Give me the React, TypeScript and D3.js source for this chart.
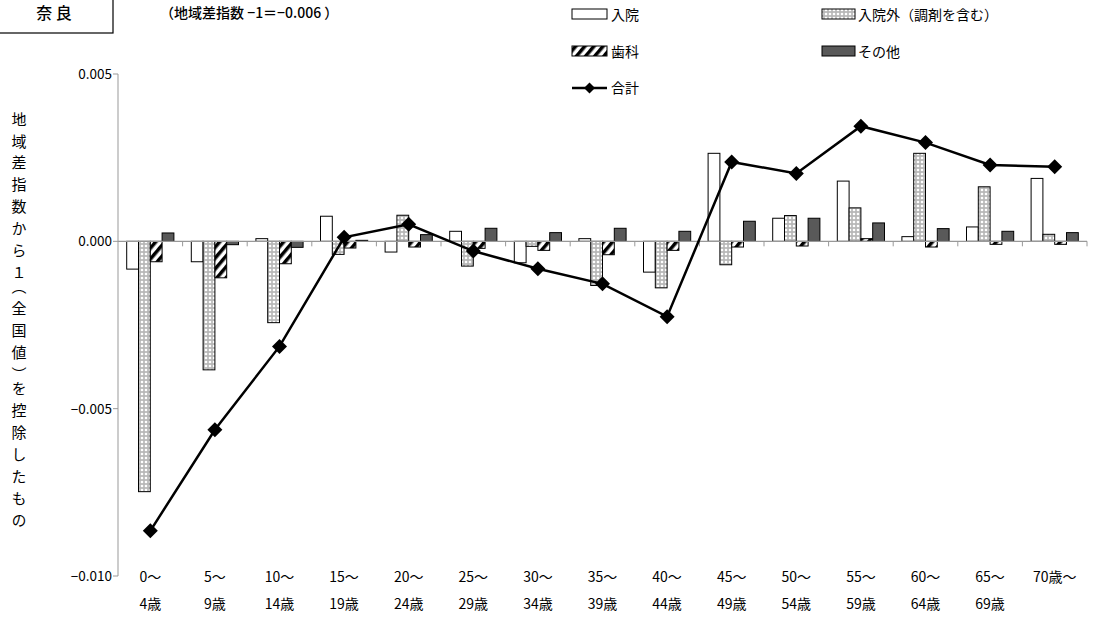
import React from "react";
import * as d3 from "d3";

const categories = ["0～|4歳","5～|9歳","10～|14歳","15～|19歳","20～|24歳","25～|29歳","30～|34歳","35～|39歳","40～|44歳","45～|49歳","50～|54歳","55～|59歳","60～|64歳","65～|69歳","70歳～|"];
const inpatient = [-0.00083,-0.00061,0.00008,0.00075,-0.00032,0.0003,-0.00064,0.00008,-0.00092,0.00263,0.00069,0.0018,0.00014,0.00043,0.00188];
const outpatient = [-0.00748,-0.00384,-0.00243,-0.00039,0.00078,-0.00074,-0.00015,-0.00132,-0.00139,-0.0007,0.00077,0.001,0.00263,0.00163,0.00021];
const dental = [-0.00061,-0.00109,-0.00067,-0.0002,-0.00017,-0.00021,-0.00027,-0.0004,-0.00027,-0.00017,-0.00014,0.00008,-0.00017,-0.00009,-0.00009];
const other = [0.00025,-0.0001,-0.00018,0.00003,0.0002,0.00039,0.00026,0.00039,0.0003,0.0006,0.00069,0.00055,0.00038,0.0003,0.00026];
const total = [-0.00865,-0.00563,-0.00314,0.00012,0.00051,-0.00029,-0.00082,-0.00127,-0.00225,0.00237,0.00203,0.00344,0.00295,0.00228,0.00223];
const yTicks = [0.005, 0, -0.005, -0.01];
const seriesNames = ["入院","入院外（調剤を含む）","歯科","その他","合計"];
const yLabel = "地域差指数から１（全国値）を控除したもの";

const FONT = "'Noto Sans CJK JP', 'Noto Sans', sans-serif";

export default function App() {
  const W = 1097, H = 641;
  const x0 = 118, x1 = 1087;
  const y = d3.scaleLinear().domain([-0.01, 0.005]).range([576, 74]);
  const x = d3.scaleBand().domain(categories).range([x0, x1]).paddingInner(0).paddingOuter(0);
  const bw = x.bandwidth();
  const barW = 11.8;
  const offset = (bw - 4 * barW) / 2;
  const series = [
    { vals: inpatient, fill: "#ffffff" },
    { vals: outpatient, fill: "url(#dots)" },
    { vals: dental, fill: "url(#hatch)" },
    { vals: other, fill: "#595959" },
  ];
  const line = d3.line<number>()
    .x((_, i) => (x(categories[i]) as number) + bw / 2)
    .y((d) => y(d));
  const diamond = (cx: number, cy: number, r: number) =>
    `M${cx},${cy - r}L${cx + r},${cy}L${cx},${cy + r}L${cx - r},${cy}Z`;

  return (
    <svg width={W} height={H} style={{ position: "absolute", left: 0, top: 0, background: "#fff" }} fontFamily={FONT}>
      <defs>
        <pattern id="dots" patternUnits="userSpaceOnUse" width="4" height="4">
          <rect width="4" height="4" fill="#b8b8b8" />
          <circle cx="2" cy="2" r="1.3" fill="#ffffff" />
        </pattern>
        <pattern id="hatch" patternUnits="userSpaceOnUse" width="7" height="7" patternTransform="rotate(40)">
          <rect width="7" height="7" fill="#ffffff" />
          <rect width="3.5" height="7" fill="#000000" />
        </pattern>
      </defs>
      <rect x={0} y={0} width={W} height={H} fill="#fff" />

      {/* title box */}
      <rect x={-2} y={-5} width={115} height={38} fill="#fff" stroke="#000" strokeWidth={1.2} />
      <text x={54} y={19} textAnchor="middle" fontSize={16} fill="#000" fontWeight={500}>奈 良</text>
      <text x={160} y={18} fontSize={14} fill="#000" fontWeight={500}>（地域差指数 −1＝−0.006 ）</text>

      {/* y axis */}
      <line x1={x0} x2={x0} y1={y(0.005)} y2={y(-0.01)} stroke="#999" strokeWidth={1} />
      {yTicks.map((t) => (
        <g key={t}>
          <line x1={x0 - 5} x2={x0} y1={y(t)} y2={y(t)} stroke="#999" />
          <text x={112} y={y(t) + 5} textAnchor="end" fontSize={13.5} fill="#000">{d3.format(".3f")(t)}</text>
        </g>
      ))}
      <text x={19} y={111.5} fontSize={15} fill="#000"
        style={{ writingMode: "vertical-rl", letterSpacing: "6.9px", fontFeatureSettings: "'vhal' 1" } as any}>
        {yLabel}
      </text>

      {/* bars */}
      {series.map((s, si) =>
        s.vals.map((v, i) => {
          const bx = (x(categories[i]) as number) + offset + si * barW;
          const yt = y(Math.max(0, v)), yb = y(Math.min(0, v));
          return <rect key={`${si}-${i}`} x={bx} y={yt} width={barW} height={Math.max(0.5, yb - yt)} fill={s.fill} stroke="#000" strokeWidth={1} />;
        })
      )}

      {/* x axis */}
      <line x1={x0} x2={x1} y1={y(0)} y2={y(0)} stroke="#999" strokeWidth={1.2} />
      {categories.map((c) => (
        <line key={c} x1={(x(c) as number) + bw} x2={(x(c) as number) + bw} y1={y(0)} y2={y(0) + 5} stroke="#999" />
      ))}

      {/* total line */}
      <path d={line(total) || ""} fill="none" stroke="#000" strokeWidth={2.5} />
      {total.map((v, i) => (
        <path key={i} d={diamond((x(categories[i]) as number) + bw / 2, y(v), 7.5)} fill="#000" />
      ))}

      {/* x labels */}
      {categories.map((c) => {
        const [a, b] = c.split("|");
        const cx = (x(c) as number) + bw / 2;
        return (
          <g key={c}>
            <text x={cx} y={582} textAnchor="middle" fontSize={14} fill="#000">{a}</text>
            <text x={cx} y={609} textAnchor="middle" fontSize={14} fill="#000">{b}</text>
          </g>
        );
      })}

      {/* legend */}
      <rect x={572} y={9} width={35} height={10} fill="#fff" stroke="#000" />
      <text x={611} y={19.5} fontSize={14} fill="#000">{seriesNames[0]}</text>
      <rect x={822} y={9} width={33} height={10} fill="url(#dots)" stroke="#000" />
      <text x={858} y={19.5} fontSize={14} fill="#000">{seriesNames[1]}</text>
      <rect x={572} y={46} width={35} height={10} fill="url(#hatch)" stroke="#000" />
      <text x={611} y={56.5} fontSize={14} fill="#000">{seriesNames[2]}</text>
      <rect x={822} y={46} width={33} height={10} fill="#595959" stroke="#000" />
      <text x={858} y={56.5} fontSize={14} fill="#000">{seriesNames[3]}</text>
      <line x1={572} x2={607} y1={88} y2={88} stroke="#000" strokeWidth={2.5} />
      <path d={diamond(589.5, 88, 5.5)} fill="#000" />
      <text x={611} y={93} fontSize={14} fill="#000">{seriesNames[4]}</text>
    </svg>
  );
}
